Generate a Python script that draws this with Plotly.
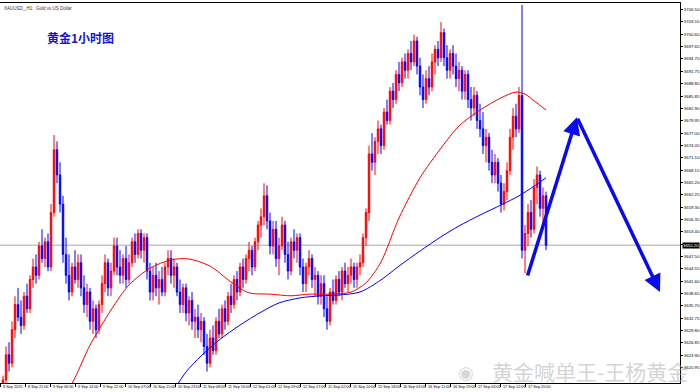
import plotly.graph_objects as go

# ---------------- data (XAUUSD H1) ----------------
opens = [3612,3618,3624,3622,3630,3636,3633,3631,3638,3635,
         3642,3645,3643,3650,3647,3651,3645,3658,3673,3667,
         3660,3648,3643,3639,3645,3642,3646,3640,3636,3639,
         3632,3635,3630,3636,3641,3646,3640,3644,3650,3645,
         3643,3647,3642,3646,3651,3648,3653,3649,3652,3644,
         3639,3643,3640,3642,3639,3645,3647,3643,3645,3639,
         3636,3640,3634,3637,3632,3633,3630,3632,3626,3622,
         3628,3625,3632,3629,3635,3632,3638,3636,3642,3639,
         3645,3642,3647,3649,3645,3651,3655,3657,3662,3656,
         3650,3654,3647,3650,3655,3648,3644,3651,3649,3652,
         3645,3641,3645,3647,3642,3643,3638,3641,3635,3632,
         3639,3637,3642,3639,3644,3641,3643,3645,3642,3645,
         3646,3652,3658,3672,3670,3675,3678,3674,3682,3680,
         3687,3685,3691,3689,3694,3692,3696,3694,3699,3693,
         3688,3685,3690,3688,3694,3697,3695,3701,3695,3692,
         3696,3693,3690,3692,3687,3691,3685,3683,3686,3680,
         3678,3674,3676,3670,3667,3670,3665,3660,3663,3668,
         3676,3681,3678,3686,3649,3653,3658,3654,3664,3667,
         3659,3662]
highs = [3619,3626,3627,3632,3638,3640,3637,3639,3641,3643,
         3647,3648,3651,3654,3652,3653,3660,3676.5,3675,3670,
         3662,3652,3648,3646,3649,3648,3648,3643,3641,3640,
         3637,3636,3637,3643,3648,3647,3646,3652,3652,3649,
         3648,3650,3648,3652,3653,3654,3654,3653,3653,3646,
         3645,3646,3644,3645,3646,3649,3649,3647,3646,3642,
         3641,3641,3638,3639,3635,3636,3634,3633,3629,3630,
         3631,3633,3635,3636,3637,3639,3641,3643,3644,3646,
         3647,3648,3651,3650,3652,3656,3659,3665,3664.5,3658,
         3656,3656,3652,3657,3656,3651,3652,3654,3653,3653,
         3647,3646,3649,3648,3645,3644,3643,3643,3638,3640,
         3642,3643,3644,3645,3646,3645,3647,3646,3646,3648,
         3653,3659,3674,3677,3676,3680,3679,3683,3685,3688,
         3689,3692,3694,3695,3696,3697,3699,3700.5,3700,3695,
         3691,3692,3693,3696,3698,3699,3703.5,3702,3698,3697,
         3698,3696,3694,3693,3692,3692,3688,3688,3687,3684,
         3682,3678,3677,3673,3672,3671,3667,3665,3670,3678,
         3683,3684,3688,3707.6,3655,3660,3661,3666,3669,3668,
         3664,3663]
lows = [3610,3617,3620,3621,3628,3632,3629,3630,3634,3634,
        3640,3641,3642,3646,3645,3644,3644,3657,3665,3658,
        3646,3641,3637,3638,3641,3640,3638,3634,3633,3630,
        3629,3628,3629,3634,3639,3638,3638,3643,3643,3641,
        3641,3640,3641,3645,3646,3647,3647,3646,3642,3637,
        3637,3638,3636,3638,3638,3643,3641,3640,3638,3634,
        3634,3632,3631,3630,3628,3628,3627,3624,3620,3621,
        3624,3624,3628,3628,3630,3631,3634,3635,3637,3638,
        3640,3641,3644,3643,3644,3649,3652,3655,3654,3648,
        3648,3645,3643,3649,3646,3642,3643,3647,3646,3643,
        3639,3639,3643,3640,3638,3636,3636,3633,3630,3631,
        3636,3636,3638,3637,3640,3639,3641,3640,3640,3643,
        3645,3650,3656,3668,3667,3672,3672,3673,3679,3679,
        3683,3684,3687,3688,3690,3690,3692,3693,3691,3686,
        3683,3684,3686,3687,3691,3693,3694,3693,3690,3690,
        3691,3688,3687,3685,3685,3683,3680,3681,3678,3676,
        3672,3670,3668,3665,3665,3663,3658,3658.5,3661,3667,
        3673,3676,3677,3647,3643.5,3650,3652,3653,3660,3657,
        3654,3649]
closes = [3618,3624,3622,3630,3636,3633,3631,3638,3635,3642,
          3645,3643,3650,3647,3651,3645,3658,3673,3667,3660,
          3648,3643,3639,3645,3642,3646,3640,3636,3639,3632,
          3635,3630,3636,3641,3646,3640,3644,3650,3645,3643,
          3647,3642,3646,3651,3648,3653,3649,3652,3644,3639,
          3643,3640,3642,3639,3645,3647,3643,3645,3639,3636,
          3640,3634,3637,3632,3633,3630,3632,3626,3622,3628,
          3625,3632,3629,3635,3632,3638,3636,3642,3639,3645,
          3642,3647,3649,3645,3651,3655,3657,3662,3656,3650,
          3654,3647,3650,3655,3648,3644,3651,3649,3652,3645,
          3641,3645,3647,3642,3643,3638,3641,3635,3632,3639,
          3637,3642,3639,3644,3641,3643,3645,3642,3645,3646,
          3652,3658,3672,3670,3675,3678,3674,3682,3680,3687,
          3685,3691,3689,3694,3692,3696,3694,3699,3693,3688,
          3685,3690,3688,3694,3697,3695,3701,3695,3692,3696,
          3693,3690,3692,3687,3691,3685,3683,3686,3680,3678,
          3674,3676,3670,3667,3670,3665,3660,3663,3668,3676,
          3681,3678,3686,3649,3653,3658,3654,3664,3667,3659,
          3662,3650.2]
bars = list(range(len(opens)))

red_ma_bars = [20,24,29,36,42,49,56,62,69,76,82,89,96,102,109,116,121,126,132,139,146,152,159,166,171,174,177,181]
red_ma_vals = [3613.2,3618.5,3626.3,3634.7,3640.7,3644.7,3646.7,3646.9,3645.2,3641.4,3638.8,3638.5,3638.1,3638.5,
               3638.5,3639.0,3641.2,3646.2,3656.7,3666.3,3673.4,3678.7,3682.5,3685.4,3686.8,3686.3,3684.7,3682.5]
blue_ma_bars = [57,61,66,72,79,86,92,99,106,112,119,126,132,139,146,152,159,166,172,177,181]
blue_ma_vals = [3615.6,3619.9,3623.7,3627.5,3631.1,3634.2,3636.4,3637.6,3638.1,3638.3,3639.0,3641.9,3645.2,
                3648.8,3652.2,3654.8,3657.4,3659.8,3662.0,3664.3,3666.3]

y_tick_vals = [3706.50,3703.55,3700.60,3697.65,3694.70,3691.75,3688.80,3685.85,3682.90,3679.95,
               3677.00,3674.05,3671.10,3668.15,3665.20,3662.25,3659.30,3656.35,3653.40,3650.45,
               3647.50,3644.55,3641.60,3638.65,3635.70,3632.75,3629.80,3626.85,3623.90,3620.95]
x_tick_labels = ["8 Sep 2025","8 Sep 21:00","9 Sep 06:00","9 Sep 14:00","9 Sep 22:00","10 Sep 07:00",
                 "10 Sep 15:00","10 Sep 23:00","11 Sep 08:00","11 Sep 16:00","12 Sep 01:00","12 Sep 09:00",
                 "12 Sep 17:00","15 Sep 02:00","15 Sep 10:00","15 Sep 18:00","16 Sep 03:00","16 Sep 11:00",
                 "16 Sep 19:00","17 Sep 04:00","17 Sep 12:00","17 Sep 20:00"]

current_price = 3650.20
arrow_bars = [174.7, 191.3, 219.0]
arrow_prices = [3642.6, 3680.8, 3639.0]

title_text = "黄金1小时图"
caption_text = "XAUUSD_,H1:  Gold vs US Dollar"
watermark_text = "黄金喊单王-王杨黄金"

# ---------------- figure ----------------
RED = "#ff0000"
BLUE = "#0000ff"
label_step = 25 / 3.0
x_tick_pos = [k * label_step - 1 for k in range(len(x_tick_labels))]

fig = go.Figure()
fig.add_trace(go.Candlestick(
    x=bars, open=opens, high=highs, low=lows, close=closes,
    increasing=dict(line=dict(color=RED, width=1), fillcolor=RED),
    decreasing=dict(line=dict(color=BLUE, width=1), fillcolor=BLUE),
    whiskerwidth=0, hoverinfo="skip", showlegend=False))
fig.add_trace(go.Scatter(x=red_ma_bars, y=red_ma_vals, mode="lines",
                         line=dict(color=RED, width=1, shape="spline", smoothing=0.8),
                         hoverinfo="skip", showlegend=False))
fig.add_trace(go.Scatter(x=blue_ma_bars, y=blue_ma_vals, mode="lines",
                         line=dict(color=BLUE, width=1, shape="spline", smoothing=0.8),
                         hoverinfo="skip", showlegend=False))

annotations = []
for pos, lab in zip(x_tick_pos, x_tick_labels):
    annotations.append(dict(x=pos + 0.3, y=0, xref="x", yref="paper", text=lab, showarrow=False,
                            xanchor="left", yanchor="top", yshift=0,
                            font=dict(size=3.8, color="#000000", family="Liberation Sans")))

annotations.append(dict(x=1.0, y=current_price, xref="paper", yref="y", text="%.2f" % current_price,
                        showarrow=False, xanchor="left", yanchor="middle", xshift=2,
                        bgcolor="#000000", borderpad=0,
                        font=dict(size=4.3, color="#ffffff", family="Liberation Sans")))
annotations.append(dict(x=45 / 680, y=(383 - 38) / 380, xref="paper", yref="paper",
                        text="<b>%s</b>" % title_text, showarrow=False, xanchor="left", yanchor="middle",
                        font=dict(size=12, color="#1414d6", family="Noto Sans CJK SC")))
annotations.append(dict(x=2 / 680, y=1.0, xref="paper", yref="paper", text=caption_text,
                        showarrow=False, xanchor="left", yanchor="top", yshift=-1,
                        font=dict(size=4.5, color="#333333", family="Liberation Sans")))
annotations.append(dict(x=690 / 680, y=(383 - 371) / 380, xref="paper", yref="paper",
                        text=watermark_text, showarrow=False, xanchor="right", yanchor="middle",
                        font=dict(size=21, color="rgba(175,175,175,0.55)", family="Noto Sans CJK SC")))
annotations.append(dict(x=466 / 680, y=(383 - 372) / 380, xref="paper", yref="paper",
                        text="◉", showarrow=False, xanchor="center", yanchor="middle",
                        font=dict(size=18, color="rgba(175,175,175,0.5)", family="DejaVu Sans")))
for k in range(2):
    annotations.append(dict(x=arrow_bars[k + 1], y=arrow_prices[k + 1], ax=arrow_bars[k], ay=arrow_prices[k],
                            xref="x", yref="y", axref="x", ayref="y", text="", showarrow=True,
                            arrowhead=2, arrowsize=1.0, arrowwidth=3.5, arrowcolor="#0a0af0", standoff=0))

fig.update_layout(
    width=700, height=392,
    margin=dict(l=0, r=20, t=3, b=9),
    paper_bgcolor="#ffffff", plot_bgcolor="#ffffff",
    showlegend=False,
    annotations=annotations,
    shapes=[dict(type="line", xref="paper", yref="y", x0=0, x1=1, y0=current_price, y1=current_price,
                 line=dict(color="#a8a8a8", width=1), layer="below")],
    xaxis=dict(range=[-1, 680 / 3.0 - 1], showgrid=False, zeroline=False,
               rangeslider=dict(visible=False), showline=True, linecolor="#000000", linewidth=1,
               mirror=True, tickvals=x_tick_pos, ticks="outside", ticklen=3, tickcolor="#000000",
               showticklabels=False, fixedrange=True),
    yaxis=dict(side="right", range=[3617.26, 3708.08], tickvals=y_tick_vals,
               ticktext=["%.2f" % v for v in y_tick_vals], ticks="outside", ticklen=2,
               tickcolor="#000000", tickfont=dict(size=4.3, color="#000000", family="Liberation Sans"),
               ticklabelstandoff=0,
               showline=True, linecolor="#000000", linewidth=1, showgrid=False, zeroline=False,
               fixedrange=True),
)

fig.write_html("out.html", config={"displayModeBar": False},
               post_script="document.body.style.margin='0';document.body.style.overflow='hidden';")
